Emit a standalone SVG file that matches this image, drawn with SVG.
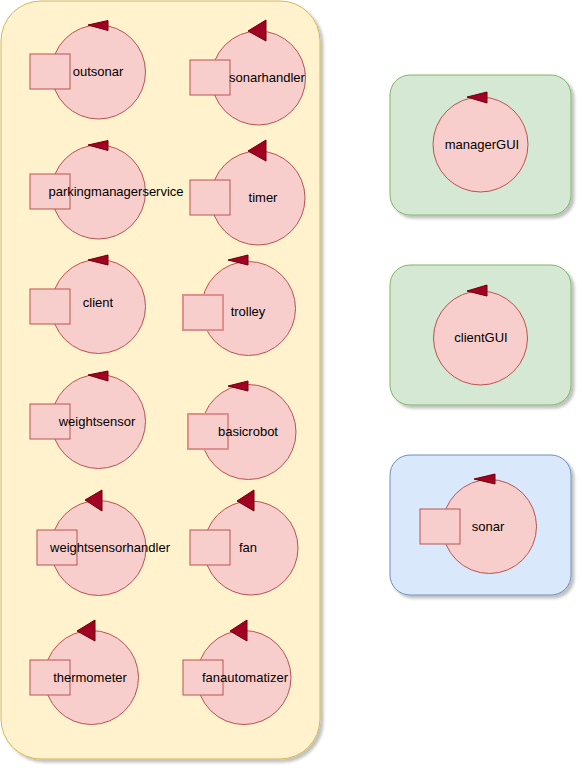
<svg xmlns="http://www.w3.org/2000/svg" width="582" height="773" viewBox="0 0 582 773">
<style>
.cont{stroke-width:1}
.yel{fill:#fff2cc;stroke:#d6b656}
.grn{fill:#d5e8d4;stroke:#82b366}
.blu{fill:#dae8fc;stroke:#6c8ebf}
.act{fill:#f8cecc;stroke:#b85450;stroke-width:1}
.sq{fill:#f8cecc;stroke:#b85450;stroke-width:1}
.sql{fill:#f8cecc;stroke:#dc8f8c;stroke-width:2}
.arr{fill:#a20025;stroke:#6f0000;stroke-width:1}
.lbl{font-family:"Liberation Sans",Arial,sans-serif;font-size:13px;fill:#000;text-anchor:middle}
</style>
<defs>
<filter id="sh" x="-10%" y="-10%" width="130%" height="130%">
<feGaussianBlur in="SourceAlpha" stdDeviation="1.5"/>
<feOffset dx="3" dy="3" result="b"/>
<feComponentTransfer><feFuncA type="linear" slope="0.25"/></feComponentTransfer>
<feMerge><feMergeNode/><feMergeNode in="SourceGraphic"/></feMerge>
</filter>
</defs>
<g id="containers">
<rect id="mainContext" class="cont yel" x="1" y="1" width="319" height="758" rx="40" filter="url(#sh)"/>
<rect id="managerGUIContext" class="cont grn" x="390" y="75" width="181" height="140" rx="20" filter="url(#sh)"/>
<rect id="clientGUIContext" class="cont grn" x="390" y="265" width="181" height="140" rx="20" filter="url(#sh)"/>
<rect id="sonarContext" class="cont blu" x="390" y="455" width="181" height="140" rx="20" filter="url(#sh)"/>
</g>
<g id="connectors"></g>
<g id="outsonar">
<circle class="act" cx="98.5" cy="72" r="47"/>
<rect class="sq" x="30" y="54" width="40" height="35"/>
<polygon class="arr" points="88,25 108,20.5 108,30.5"/>
<text class="lbl" x="98" y="76">outsonar</text>
</g>
<g id="sonarhandler">
<circle class="act" cx="258.5" cy="78" r="47"/>
<rect class="sq" x="190" y="60" width="40" height="35"/>
<polygon class="arr" points="248,31 266,20 266,41"/>
<text class="lbl" x="267" y="82">sonarhandler</text>
</g>
<g id="parkingmanagerservice">
<circle class="act" cx="98.5" cy="192" r="47"/>
<rect class="sq" x="30" y="174" width="40" height="35"/>
<polygon class="arr" points="88,145 108,140.5 108,150.5"/>
<text class="lbl" x="116" y="196">parkingmanagerservice</text>
</g>
<g id="timer">
<circle class="act" cx="258" cy="198" r="47"/>
<rect class="sq" x="190" y="180" width="40" height="35"/>
<polygon class="arr" points="248,151 266,140 266,161"/>
<text class="lbl" x="263" y="202">timer</text>
</g>
<g id="client">
<circle class="act" cx="98.5" cy="306.5" r="47"/>
<rect class="sq" x="30" y="289" width="40" height="35"/>
<polygon class="arr" points="88,260 108,255 108,265"/>
<text class="lbl" x="98" y="307">client</text>
</g>
<g id="trolley">
<circle class="act" cx="248.5" cy="308.5" r="47"/>
<rect class="sql" x="183" y="295" width="40" height="35"/>
<polygon class="arr" points="228,260 248,255 248,265"/>
<text class="lbl" x="248" y="316">trolley</text>
</g>
<g id="weightsensor">
<circle class="act" cx="98.5" cy="421.5" r="47"/>
<rect class="sq" x="30" y="404" width="40" height="35"/>
<polygon class="arr" points="88,375 108,371 108,381"/>
<text class="lbl" x="97" y="426">weightsensor</text>
</g>
<g id="basicrobot">
<circle class="act" cx="248.5" cy="432" r="47.5"/>
<rect class="sql" x="188" y="414" width="40" height="35"/>
<polygon class="arr" points="228,386 248,381 248,391"/>
<text class="lbl" x="248" y="436">basicrobot</text>
</g>
<g id="weightsensorhandler">
<circle class="act" cx="98.5" cy="548" r="47.5"/>
<rect class="sq" x="37" y="530" width="40" height="35"/>
<polygon class="arr" points="85,500 102,490 102,511"/>
<text class="lbl" x="110" y="552">weightsensorhandler</text>
</g>
<g id="fan">
<circle class="act" cx="251" cy="548" r="47"/>
<rect class="sq" x="190" y="530" width="40" height="35"/>
<polygon class="arr" points="237,501 254,490 254,511"/>
<text class="lbl" x="248" y="552">fan</text>
</g>
<g id="thermometer">
<circle class="act" cx="91.5" cy="677.5" r="47"/>
<rect class="sq" x="30" y="660" width="40" height="35"/>
<polygon class="arr" points="77,631 95,620 95,641"/>
<text class="lbl" x="90" y="682">thermometer</text>
</g>
<g id="fanautomatizer">
<circle class="act" cx="244" cy="677.5" r="47"/>
<rect class="sq" x="183" y="660" width="40" height="35"/>
<polygon class="arr" points="230,631 247,620 247,641"/>
<text class="lbl" x="245" y="682">fanautomatizer</text>
</g>
<g id="managerGUI">
<circle class="act" cx="480.5" cy="144.5" r="47.5"/>
<polygon class="arr" points="467,97 487,92 487,103"/>
<text class="lbl" x="482" y="149">managerGUI</text>
</g>
<g id="clientGUI">
<circle class="act" cx="480.5" cy="338" r="47"/>
<polygon class="arr" points="467,291 487,285 487,296"/>
<text class="lbl" x="481" y="342">clientGUI</text>
</g>
<g id="sonar">
<circle class="act" cx="489.5" cy="526.5" r="47"/>
<rect class="sq" x="420" y="509" width="40" height="35"/>
<polygon class="arr" points="474,479 495,474 495,484"/>
<text class="lbl" x="488" y="531">sonar</text>
</g>
</svg>
